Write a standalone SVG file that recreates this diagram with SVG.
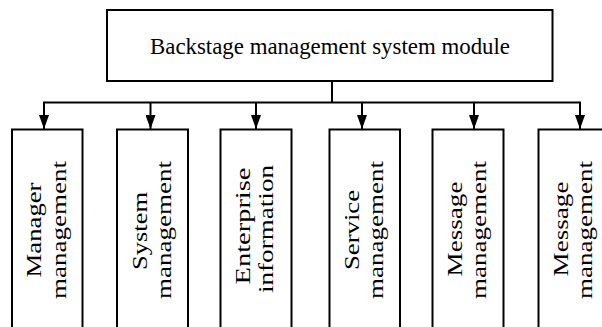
<svg xmlns="http://www.w3.org/2000/svg" width="602" height="327" viewBox="0 0 602 327">
<style>
.box{fill:#fff;stroke:#000;stroke-width:2}
.conn{fill:none;stroke:#000;stroke-width:2}
.t{font-family:"Liberation Serif","Times New Roman",serif;font-size:22px;fill:#000;text-anchor:middle}
.title{font-family:"Liberation Serif","Times New Roman",serif;font-size:23px;fill:#000;text-anchor:middle}
</style>
<defs>
<marker id="arr" markerUnits="userSpaceOnUse" markerWidth="14" markerHeight="10" refX="14" refY="5" orient="auto">
<path d="M0,0 L14,5 L0,10 z" fill="#000"/>
</marker>
</defs>
<rect width="602" height="327" fill="#fff"/>
<g id="connectors">
<path class="conn" d="M332,81 V102.5"/>
<path class="conn" d="M43,102.5 H581"/>
<path class="conn" d="M44,102.5 V129" marker-end="url(#arr)"/>
<path class="conn" d="M150.5,102.5 V129" marker-end="url(#arr)"/>
<path class="conn" d="M256,102.5 V129" marker-end="url(#arr)"/>
<path class="conn" d="M362,102.5 V129" marker-end="url(#arr)"/>
<path class="conn" d="M474,102.5 V129" marker-end="url(#arr)"/>
<path class="conn" d="M580,102.5 V129" marker-end="url(#arr)"/>
</g>
<g id="root">
<rect class="box" x="107" y="10" width="445.5" height="71"/>
<text class="title" x="330" y="53.5" textLength="360" lengthAdjust="spacingAndGlyphs">Backstage management system module</text>
</g>
<g id="n1">
<rect class="box" x="12" y="129.5" width="70.5" height="220"/>
<text class="t" transform="translate(41,230) rotate(-90)" textLength="95" lengthAdjust="spacingAndGlyphs">Manager</text>
<text class="t" transform="translate(65.5,230) rotate(-90)" textLength="138" lengthAdjust="spacingAndGlyphs">management</text>
</g>
<g id="n2">
<rect class="box" x="117" y="129.5" width="71" height="220"/>
<text class="t" transform="translate(146.5,231) rotate(-90)" textLength="78" lengthAdjust="spacingAndGlyphs">System</text>
<text class="t" transform="translate(170.5,230) rotate(-90)" textLength="138" lengthAdjust="spacingAndGlyphs">management</text>
</g>
<g id="n3">
<rect class="box" x="220.5" y="129.5" width="71" height="220"/>
<text class="t" transform="translate(250,226) rotate(-90)" textLength="117" lengthAdjust="spacingAndGlyphs">Enterprise</text>
<text class="t" transform="translate(272.5,229) rotate(-90)" textLength="128" lengthAdjust="spacingAndGlyphs">information</text>
</g>
<g id="n4">
<rect class="box" x="329.5" y="129.5" width="70.5" height="220"/>
<text class="t" transform="translate(359,230) rotate(-90)" textLength="80" lengthAdjust="spacingAndGlyphs">Service</text>
<text class="t" transform="translate(383,230) rotate(-90)" textLength="138" lengthAdjust="spacingAndGlyphs">management</text>
</g>
<g id="n5">
<rect class="box" x="432.5" y="129.5" width="71" height="220"/>
<text class="t" transform="translate(462,229) rotate(-90)" textLength="95" lengthAdjust="spacingAndGlyphs">Message</text>
<text class="t" transform="translate(486,230) rotate(-90)" textLength="138" lengthAdjust="spacingAndGlyphs">management</text>
</g>
<g id="n6">
<rect class="box" x="538.5" y="129.5" width="71" height="220"/>
<text class="t" transform="translate(568,229) rotate(-90)" textLength="95" lengthAdjust="spacingAndGlyphs">Message</text>
<text class="t" transform="translate(592,230) rotate(-90)" textLength="138" lengthAdjust="spacingAndGlyphs">management</text>
</g>
</svg>
